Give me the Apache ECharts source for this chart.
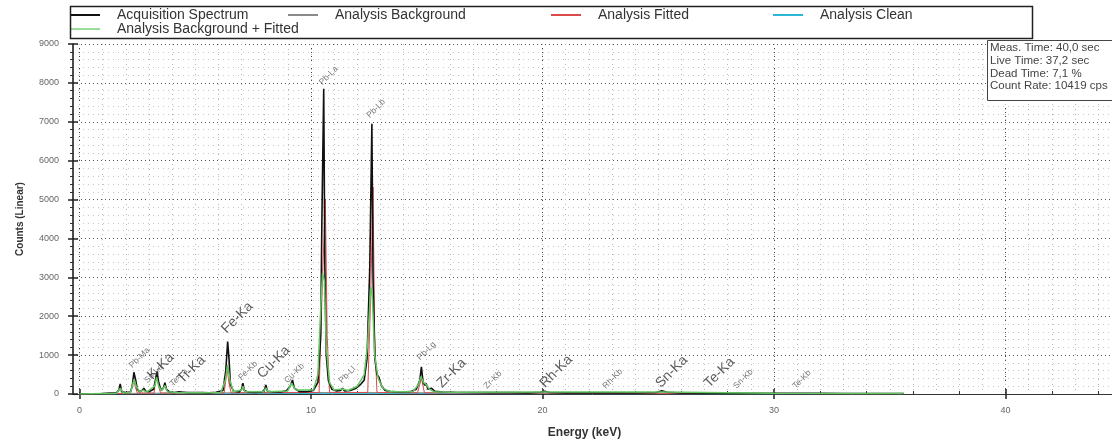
<!DOCTYPE html>
<html>
<head>
<meta charset="utf-8">
<script src="https://cdn.jsdelivr.net/npm/echarts@6/dist/echarts.min.js"></script>
<style>
  html, body { margin: 0; padding: 0; background: #fff; }
  #main { width: 1112px; height: 444px; }
</style>
</head>
<body>
<div id="main"></div>
<script>
// energy range (keV) and counts range
var X_MIN = -0.28;
var X_MAX = 44.6;
var Y_MAX = 9000;

// tick positions on the energy axis
var majorTicks = [0, 10, 20, 30, 40];
var minorTicks = [2, 4, 6, 8, 12, 14, 16, 18, 22, 24, 26, 28, 32, 34, 36, 38, 42, 44];
var gridTicks = [];
for (var k = 0; k <= 44; k++) gridTicks.push(k);

// [keV, counts]
var acquisition = [
  [0.0, 0], [0.8, 0], [1.0, 10], [1.3, 25], [1.6, 30], [1.7, 100], [1.76, 260], [1.82, 60],
  [2.0, 35], [2.2, 50], [2.28, 200], [2.35, 560], [2.42, 380], [2.5, 120], [2.6, 60], [2.7, 90],
  [2.78, 150], [2.86, 70], [3.0, 60], [3.2, 120], [3.3, 420], [3.35, 580], [3.42, 300], [3.52, 100],
  [3.62, 150], [3.69, 290], [3.76, 120], [3.9, 50], [4.1, 40], [4.3, 55], [4.5, 45], [4.7, 35],
  [5.0, 40], [5.3, 35], [5.6, 30], [5.9, 45], [6.2, 90], [6.32, 600], [6.4, 1350], [6.46, 900],
  [6.52, 250], [6.65, 70], [6.9, 50], [7.0, 120], [7.06, 280], [7.12, 90], [7.3, 45], [7.6, 40],
  [7.9, 55], [8.0, 120], [8.05, 230], [8.12, 70], [8.4, 50], [8.7, 50], [8.95, 90], [9.1, 200],
  [9.2, 360], [9.28, 150], [9.5, 60], [9.8, 60], [10.1, 90], [10.3, 300], [10.42, 1500], [10.47, 4430],
  [10.55, 7850], [10.6, 3200], [10.66, 1000], [10.75, 350], [10.9, 120], [11.1, 80], [11.28, 90], [11.36, 150],
  [11.45, 80], [11.7, 90], [11.95, 150], [12.15, 250], [12.3, 360], [12.42, 900], [12.54, 3270], [12.63, 6950],
  [12.68, 3000], [12.76, 900], [12.85, 500], [12.93, 440], [13.05, 200], [13.2, 90], [13.5, 60], [13.9, 50],
  [14.3, 60], [14.55, 120], [14.7, 350], [14.77, 700], [14.84, 300], [14.92, 220], [14.97, 280], [15.05, 120],
  [15.2, 150], [15.35, 70], [15.7, 50], [16.2, 45], [17.0, 40], [17.8, 35], [18.6, 35], [19.4, 30],
  [19.9, 45], [20.1, 70], [20.3, 40], [21.0, 30], [22.0, 28], [23.0, 28], [24.0, 25], [24.9, 40],
  [25.15, 80], [25.4, 45], [26.0, 25], [27.0, 22], [28.0, 22], [29.0, 20], [30.0, 18], [31.0, 16],
  [32.0, 15], [33.0, 14], [34.0, 12], [35.0, 10], [35.6, 10]
];

var background = [
  [0, 0], [1.0, 5], [2.0, 15], [4.0, 25], [8.0, 35], [11.0, 40], [14.0, 35], [18.0, 25],
  [25.0, 15], [30.0, 10], [35.6, 8]
];

var fitted = [
  [0, 0], [2.2, 20], [2.3, 300], [2.34, 450], [2.4, 200], [2.5, 25], [3.22, 25], [3.3, 400],
  [3.34, 560], [3.42, 200], [3.5, 25], [6.25, 30], [6.38, 650], [6.45, 300], [6.55, 30], [10.35, 40],
  [10.5, 3000], [10.62, 4990], [10.7, 1500], [10.8, 40], [12.45, 40], [12.58, 2500], [12.68, 5320],
  [12.75, 1500], [12.85, 40], [14.6, 30], [14.77, 400], [14.9, 30], [35.6, 5]
];

var bgFitted = [
  [0, 0], [1.6, 20], [1.76, 150], [1.9, 25], [2.2, 40], [2.3, 250], [2.36, 380], [2.45, 200],
  [2.6, 60], [2.75, 100], [2.9, 50], [3.25, 200], [3.33, 430], [3.42, 200], [3.55, 80], [3.69, 220],
  [3.8, 60], [4.2, 40], [5.0, 35], [6.1, 40], [6.3, 350], [6.4, 750], [6.5, 350], [6.65, 60],
  [7.0, 100], [7.06, 200], [7.15, 60], [7.95, 60], [8.05, 160], [8.15, 60], [9.0, 80], [9.15, 280],
  [9.22, 300], [9.35, 100], [10.1, 100], [10.3, 500], [10.42, 2210], [10.5, 3110], [10.58, 2900], [10.66, 1200],
  [10.8, 300], [11.0, 100], [11.36, 130], [11.6, 90], [12.0, 200], [12.3, 500], [12.45, 1310], [12.58, 2760],
  [12.65, 2500], [12.75, 1000], [12.9, 400], [13.1, 150], [13.4, 60], [14.4, 60], [14.65, 250], [14.75, 450],
  [14.85, 300], [14.97, 250], [15.1, 130], [15.3, 60], [16.0, 45], [20.1, 50], [25.15, 50], [30.0, 20],
  [35.6, 10]
];

var clean = [
  [0, 0], [2.35, 10], [6.4, 10], [10.55, 15], [12.63, 15], [20.0, 8], [35.6, 5]
];

// peak labels: [text, keV, counts, big]
var peakLabels = [
  ["Pb-Ma", 2.35, 620, 0], ["Sn-La", 3.0, 230, 0], ["K-Ka", 3.25, 300, 1], ["Te-La", 4.1, 150, 0],
  ["Ti-Ka", 4.55, 200, 1], ["Fe-Ka", 6.45, 1490, 1], ["Fe-Kb", 7.06, 310, 0], ["Cu-Ka", 8.0, 330, 1],
  ["Cu-Kb", 9.05, 230, 0], ["Pb-La", 10.55, 7900, 0], ["Pb-Ll", 11.4, 230, 0], ["Pb-Lb", 12.6, 7050, 0],
  ["Pb-Lg", 14.78, 820, 0], ["Zr-Ka", 15.75, 90, 1], ["Zr-Kb", 17.67, 90, 0], ["Rh-Ka", 20.2, 90, 1],
  ["Rh-Kb", 22.8, 90, 0], ["Sn-Ka", 25.2, 90, 1], ["Te-Ka", 27.3, 90, 1], ["Sn-Kb", 28.45, 90, 0],
  ["Te-Kb", 31.0, 90, 0]
];

var infoLines = ["Meas. Time: 40,0 sec", "Live Time: 37,2 sec", "Dead Time: 7,1 %", "Count Rate: 10419 cps"];

var FONT = "Liberation Sans";
var colors = {
  acquisition: "#111111",
  background: "#8a8a8a",
  fitted: "#dd4a4a",
  clean: "#2bb6d6",
  bgFitted: "#63c663"
};

document.addEventListener("DOMContentLoaded", function () {
  var chart = echarts.init(document.getElementById("main"), null, { renderer: "canvas" });

  var hidden = {
    type: "value",
    min: X_MIN,
    max: X_MAX,
    position: "bottom",
    axisLine: { show: false },
    axisLabel: { show: false },
    axisTick: { show: false },
    splitLine: { show: false }
  };

  function legendAt(name, left, top) {
    return {
      data: [name],
      left: left,
      top: top,
      padding: 0,
      icon: "rect",
      itemWidth: 30,
      itemHeight: 2,
      selectedMode: false,
      textStyle: { fontFamily: FONT, fontSize: 14, color: "#333", padding: [0, 0, 0, 12] }
    };
  }

  var labelData = peakLabels.map(function (p) {
    return {
      name: p[0],
      value: [p[1], p[2]],
      label: {
        fontSize: p[3] ? 14 : 8.5,
        color: p[3] ? "#333" : "#555"
      }
    };
  });

  var option = {
    animation: false,
    backgroundColor: "#fff",
    grid: { left: 73, right: 0, top: 44, bottom: 50 },
    legend: [
      legendAt("Acquisition Spectrum", 70, 8),
      legendAt("Analysis Background", 288, 8),
      legendAt("Analysis Fitted", 551, 8),
      legendAt("Analysis Clean", 773, 8),
      legendAt("Analysis Background + Fitted", 70, 22)
    ],
    xAxis: [
      {
        type: "value",
        min: X_MIN,
        max: X_MAX,
        position: "bottom",
        name: "Energy (keV)",
        nameLocation: "middle",
        nameGap: 33,
        nameTextStyle: { fontFamily: FONT, fontSize: 12, fontWeight: "bold", color: "#333", padding: [0, 16, 0, 0] },
        axisLine: { show: true, lineStyle: { color: "#333", width: 1 } },
        axisTick: { show: true, inside: false, length: 5, customValues: majorTicks, lineStyle: { color: "#222", width: 1.5 } },
        axisLabel: { customValues: majorTicks, fontFamily: FONT, fontSize: 9, color: "#666", margin: 12 },
        splitLine: { show: false }
      },
      Object.assign({}, hidden, {
        axisTick: { show: true, inside: true, length: 5, customValues: majorTicks, lineStyle: { color: "#222", width: 1.5 } },
        splitLine: { show: true, lineStyle: { color: "#444", width: 1, type: [1, 3] } }
      }),
      Object.assign({}, hidden, {
        axisTick: { show: true, inside: true, length: 3, customValues: minorTicks, lineStyle: { color: "#333", width: 1 } }
      }),
      Object.assign({}, hidden, {
        axisTick: { show: false, customValues: gridTicks },
        splitLine: { show: true, lineStyle: { color: "#b8b8b8", width: 1, type: [1, 4] } }
      })
    ],
    yAxis: [
      {
        type: "value",
        min: 0,
        max: Y_MAX,
        interval: 1000,
        position: "left",
        name: "Counts (Linear)",
        nameLocation: "middle",
        nameGap: 48,
        nameTextStyle: { fontFamily: FONT, fontSize: 10, fontWeight: "bold", color: "#333" },
        axisLine: { show: true, onZero: false, lineStyle: { color: "#111", width: 1.5 } },
        axisTick: { show: true, inside: false, length: 5, lineStyle: { color: "#222", width: 1.5 } },
        minorTick: { show: true, splitNumber: 5, length: 3, lineStyle: { color: "#333" } },
        axisLabel: {
          fontFamily: FONT, fontSize: 9, color: "#666", margin: 14,
          formatter: function (v) { return String(v); }
        },
        splitLine: { show: true, lineStyle: { color: "#555", width: 1, type: [1, 3] } },
        minorSplitLine: { show: true, lineStyle: { color: "#c8c8c8", width: 1, type: [1, 4] } }
      },
      {
        type: "value",
        min: 0,
        max: Y_MAX,
        interval: 1000,
        position: "left",
        axisLine: { show: false, onZero: false },
        axisLabel: { show: false },
        axisTick: { show: true, inside: true, length: 5, lineStyle: { color: "#222", width: 1.5 } },
        splitLine: { show: false }
      }
    ],
    series: [
      {
        name: "Analysis Clean",
        type: "line",
        data: clean,
        showSymbol: false,
        lineStyle: { color: colors.clean, width: 1 },
        itemStyle: { color: colors.clean },
        z: 2
      },
      {
        name: "Analysis Background",
        type: "line",
        data: background,
        showSymbol: false,
        lineStyle: { color: colors.background, width: 1 },
        itemStyle: { color: colors.background },
        z: 3
      },
      {
        name: "Analysis Fitted",
        type: "line",
        data: fitted,
        showSymbol: false,
        lineStyle: { color: colors.fitted, width: 1 },
        itemStyle: { color: colors.fitted },
        z: 4
      },
      {
        name: "Acquisition Spectrum",
        type: "line",
        data: acquisition,
        showSymbol: false,
        lineStyle: { color: colors.acquisition, width: 1.6 },
        itemStyle: { color: colors.acquisition },
        z: 5
      },
      {
        name: "Analysis Background + Fitted",
        type: "line",
        data: bgFitted,
        showSymbol: false,
        lineStyle: { color: colors.bgFitted, width: 1.5 },
        itemStyle: { color: "#9bdc9b" },
        z: 6
      },
      {
        name: "labels",
        type: "scatter",
        data: labelData,
        symbolSize: 0,
        silent: true,
        z: 8,
        label: {
          show: true,
          formatter: "{b}",
          position: "inside",
          align: "left",
          verticalAlign: "bottom",
          rotate: 45,
          fontFamily: FONT
        }
      }
    ],
    graphic: [
      {
        type: "rect",
        left: 68,
        top: 4,
        z: 100,
        shape: { width: 962, height: 32 },
        style: { fill: "none", stroke: "#222", lineWidth: 1.5 }
      },
      {
        type: "rect",
        left: 987,
        top: 40,
        z: 100,
        shape: { width: 140, height: 60 },
        style: { fill: "#fff", stroke: "#444", lineWidth: 1 }
      }
    ].concat(infoLines.map(function (t, i) {
      return {
        type: "text",
        left: 990,
        top: 42 + i * 12.7,
        z: 101,
        style: { text: t, fontFamily: FONT, fontSize: 11.5, fill: "#444" }
      };
    }))
  };

  chart.setOption(option);
});
</script>
</body>
</html>
